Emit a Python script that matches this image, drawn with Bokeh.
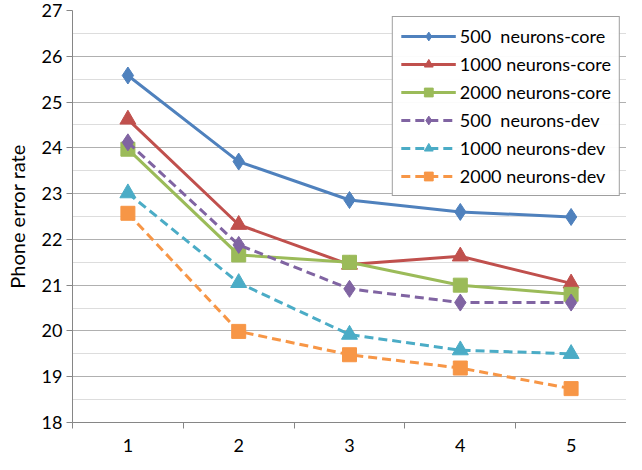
from bokeh.plotting import figure
from bokeh.models import FixedTicker, Range1d, Legend
from bokeh.embed import file_html
from bokeh.resources import INLINE

x = [1, 2, 3, 4, 5]
core_500 = [25.58, 23.70, 22.86, 22.60, 22.49]
core_1000 = [24.62, 22.32, 21.45, 21.63, 21.04]
core_2000 = [23.97, 21.66, 21.50, 21.00, 20.80]
dev_500 = [24.12, 21.88, 20.92, 20.62, 20.62]
dev_1000 = [23.01, 21.05, 19.92, 19.58, 19.50]
dev_2000 = [22.57, 19.99, 19.48, 19.19, 18.74]
labels = ["500  neurons-core", "1000 neurons-core", "2000 neurons-core",
          "500  neurons-dev", "1000 neurons-dev", "2000 neurons-dev"]
y_ticks = [18, 19, 20, 21, 22, 23, 24, 25, 26, 27]
x_labels = ["1", "2", "3", "4", "5"]

FONT = "Lato"

p = figure(width=626, height=454, output_backend="svg", toolbar_location=None,
           x_range=Range1d(0.5, 5.5), y_range=Range1d(18, 27),
           min_border_left=72, min_border_right=0, min_border_top=10, min_border_bottom=28)
p.outline_line_color = None
p.background_fill_color = "white"

series = [
    (core_500, "#4F81BD", "diamond", None, 17),
    (core_1000, "#C0504D", "triangle", None, 16),
    (core_2000, "#9BBB59", "square", None, 14),
    (dev_500, "#8064A2", "diamond", "9 5", 17),
    (dev_1000, "#4BACC6", "triangle", "9 5", 16),
    (dev_2000, "#F79646", "square", "9 5", 14),
]
items = []
for (vals, col, mk, dash, sz), lab in zip(series, labels):
    kw = {}
    if dash:
        kw["line_dash"] = dash
    r1 = p.line(x, vals, line_color=col, line_width=3, **kw)
    r2 = p.scatter(x, vals, marker=mk, size=sz, fill_color=col, line_color=col)
    items.append((lab, [r1, r2]))

legend = Legend(items=items, location="top_right")
legend.margin = 6
legend.border_line_color = "#404040"
legend.border_line_width = 1
legend.label_text_font = FONT
legend.label_text_font_size = "18px"
legend.label_text_color = "#000000"
legend.glyph_width = 55
legend.glyph_height = 22
legend.label_standoff = 4
legend.spacing = 6
legend.padding = 8
legend.label_height = 22
p.add_layout(legend, "center")

# y axis
p.yaxis.ticker = FixedTicker(ticks=y_ticks, minor_ticks=[v + 0.5 for v in y_ticks[:-1]])
p.yaxis.axis_line_color = "#868686"
p.yaxis.major_tick_line_color = "#868686"
p.yaxis.major_tick_out = 6
p.yaxis.major_tick_in = 0
p.yaxis.minor_tick_line_color = None
p.yaxis.major_label_standoff = 4
p.yaxis.major_label_text_font = FONT
p.yaxis.major_label_text_font_size = "18px"
p.yaxis.major_label_text_color = "#000000"
p.yaxis.axis_label = "Phone error rate"
p.yaxis.axis_label_text_font = FONT
p.yaxis.axis_label_text_font_size = "20px"
p.yaxis.axis_label_text_font_style = "normal"
p.yaxis.axis_label_text_color = "#000000"
p.yaxis.axis_label_standoff = 10

# x axis
p.xaxis.ticker = FixedTicker(ticks=x, minor_ticks=[0.5, 1.5, 2.5, 3.5, 4.5, 5.5])
p.xaxis.major_label_overrides = {i: s for i, s in zip(x, x_labels)}
p.xaxis.axis_line_color = "#868686"
p.xaxis.major_tick_line_color = None
p.xaxis.major_tick_out = 0
p.xaxis.major_tick_in = 0
p.xaxis.minor_tick_line_color = "#868686"
p.xaxis.minor_tick_out = 6
p.xaxis.minor_tick_in = 0
p.xaxis.major_label_standoff = 10
p.xaxis.major_label_text_font = FONT
p.xaxis.major_label_text_font_size = "18px"
p.xaxis.major_label_text_color = "#000000"

# grids
p.xgrid.grid_line_color = None
p.ygrid.grid_line_color = "#B0B0B0"
p.ygrid.grid_line_width = 1
p.ygrid.minor_grid_line_color = "#DDDDDD"
p.ygrid.minor_grid_line_width = 1

open("out.html", "w").write(file_html(p, INLINE))
